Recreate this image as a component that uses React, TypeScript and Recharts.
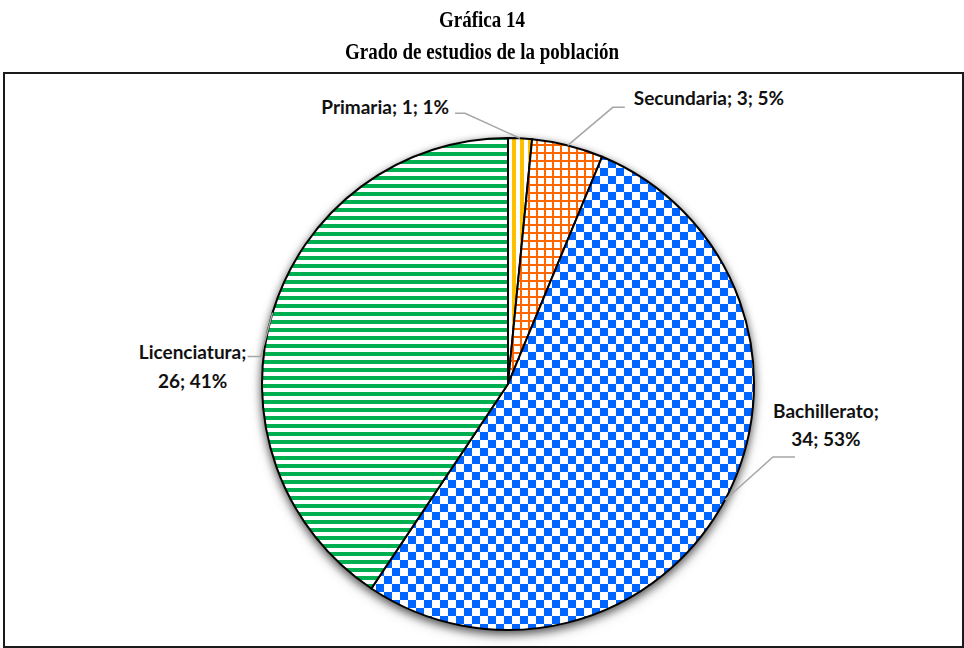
import { PieChart, Pie, Cell } from "recharts";

const categories = ["Primaria", "Secundaria", "Bachillerato", "Licenciatura"];
const counts = [1, 3, 34, 26];
const percentLabels = ["1%", "5%", "53%", "41%"];

const data = categories.map((name, i) => ({ name, value: counts[i], pct: percentLabels[i] }));

const PATTERNS = ["pat-primaria", "pat-secundaria", "pat-bachillerato", "pat-licenciatura"];

// where each label sits relative to the slice's outer edge point (Excel "best fit" look)
const LABEL_LAYOUT = [
  { text: [-71, -31], anchor: "end", elbow: [-55, -25], tail: [-65, -25], twoLines: false },
  { text: [66, -47], anchor: "start", elbow: [45, -38], tail: [57, -38], twoLines: false },
  { text: [101, -89], anchor: "middle", elbow: [48, -43], tail: [70, -43], twoLines: true },
  { text: [-80, 40], anchor: "middle", elbow: [-12, 44], tail: [-25, 44], twoLines: true },
];

const RAD = Math.PI / 180;
const LABEL_FONT = "Lato, 'DejaVu Sans', sans-serif";

const renderLabel = (props: any) => {
  const { cx, cy, midAngle, outerRadius, index } = props;
  const d = data[index];
  const lay = LABEL_LAYOUT[index];
  const ex = cx + outerRadius * Math.cos(-midAngle * RAD);
  const ey = cy + outerRadius * Math.sin(-midAngle * RAD);
  const tx = ex + lay.text[0];
  const ty = ey + lay.text[1];
  return (
    <g key={`lbl-${index}`}>
      <polyline
        points={`${ex},${ey} ${ex + lay.elbow[0]},${ey + lay.elbow[1]} ${ex + lay.tail[0]},${ey + lay.tail[1]}`}
        fill="none"
        stroke="#a6a6a6"
        strokeWidth={1.5}
      />
      {lay.twoLines ? (
        <text x={tx} y={ty} textAnchor={lay.anchor as any} fill="#111" fontFamily={LABEL_FONT} fontWeight={700} fontSize={19}>
          <tspan x={tx} dy="0.35em">{d.name};</tspan>
          <tspan x={tx} dy="1.5em">{`${d.value}; ${d.pct}`}</tspan>
        </text>
      ) : (
        <text x={tx} y={ty} dy="0.35em" textAnchor={lay.anchor as any} fill="#111" fontFamily={LABEL_FONT} fontWeight={700} fontSize={19}>
          {`${d.name}; ${d.value}; ${d.pct}`}
        </text>
      )}
    </g>
  );
};

const titleStyle = {
  position: "absolute" as const,
  left: 0,
  width: 964,
  textAlign: "center" as const,
  fontFamily: "'Liberation Serif', serif",
  fontWeight: 700,
  fontSize: 19,
  lineHeight: "19px",
  transform: "scaleY(1.25)",
  transformOrigin: "top",
};

export default function App() {
  return (
    <div style={{ position: "relative", width: 964, height: 648, background: "#fff" }}>
      <style>{`body{margin:0} .pie-shadow{filter:drop-shadow(0px 3px 5px rgba(0,0,0,0.45))}`}</style>
      <div style={{ ...titleStyle, top: 7 }}>Gráfica 14</div>
      <div style={{ ...titleStyle, top: 39 }}>Grado de estudios de la población</div>
      <div style={{ position: "absolute", top: 72, left: 3, width: 957, height: 572, border: "2px solid #1a1a1a" }} />
      <div style={{ position: "absolute", top: 0, left: 0 }}>
        <PieChart width={964} height={648} margin={{ top: 0, right: 0, bottom: 0, left: 0 }}>
          <defs>
            <pattern id="pat-primaria" width="8" height="8" patternUnits="userSpaceOnUse">
              <rect width="8" height="8" fill="#fff" />
              <rect width="4" height="8" fill="#FFC000" />
            </pattern>
            <pattern id="pat-secundaria" width="8" height="8" patternUnits="userSpaceOnUse">
              <rect width="8" height="8" fill="#fff" />
              <rect width="2" height="8" fill="#FF6600" />
              <rect width="8" height="2" fill="#FF6600" />
            </pattern>
            <pattern id="pat-bachillerato" width="16" height="16" patternUnits="userSpaceOnUse">
              <rect width="16" height="16" fill="#fff" />
              <rect width="8" height="8" fill="#0066FF" />
              <rect x="8" y="8" width="8" height="8" fill="#0066FF" />
            </pattern>
            <pattern id="pat-licenciatura" width="8" height="8" patternUnits="userSpaceOnUse">
              <rect width="8" height="8" fill="#fff" />
              <rect width="8" height="4" fill="#00B050" />
            </pattern>
          </defs>
          <Pie
            className="pie-shadow"
            data={data}
            dataKey="value"
            nameKey="name"
            cx={508}
            cy={384}
            outerRadius={246}
            startAngle={90}
            endAngle={-270}
            fill="#fff"
            stroke="none"
            isAnimationActive={false}
          />
          <Pie
            data={data}
            dataKey="value"
            nameKey="name"
            cx={508}
            cy={384}
            outerRadius={246}
            startAngle={90}
            endAngle={-270}
            stroke="#000"
            strokeWidth={2}
            label={renderLabel}
            labelLine={false}
            isAnimationActive={false}
          >
            {data.map((entry, index) => (
              <Cell key={`cell-${index}`} fill={`url(#${PATTERNS[index]})`} />
            ))}
          </Pie>
        </PieChart>
      </div>
    </div>
  );
}
